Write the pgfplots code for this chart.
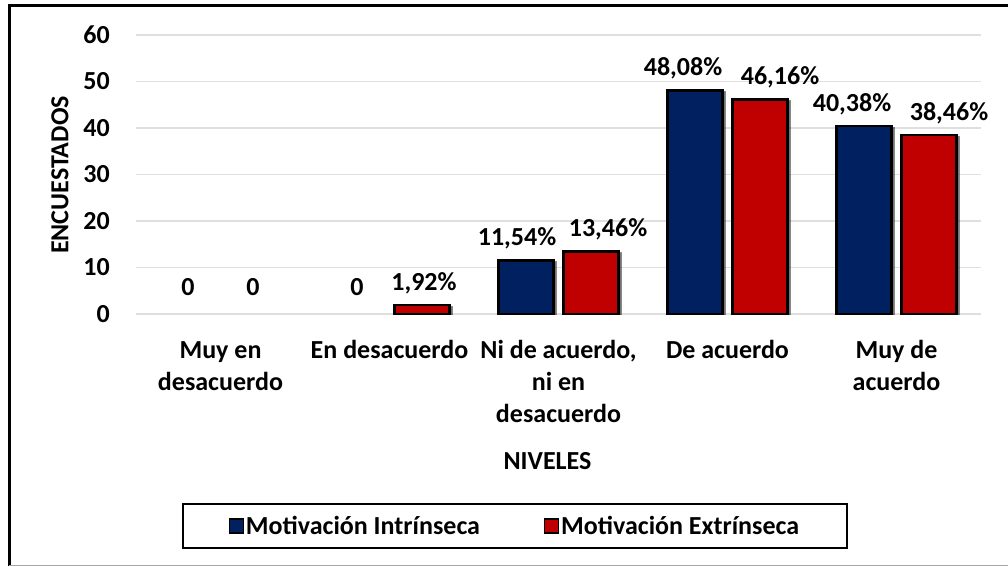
\documentclass[border=0pt]{standalone}
\usepackage{pgfplots}
\pgfplotsset{compat=1.18}
\usetikzlibrary{shadows}
\usepackage{fontspec}
\setmainfont{Carlito}
\definecolor{navy}{HTML}{002060}
\definecolor{rojo}{HTML}{C00000}
\newcommand\lb[2]{\hbox to 0pt{\hss\kern#1\kern#1\relax#2\hss}}
\begin{document}
\begin{tikzpicture}[x=1pt,y=1pt]
\useasboundingbox (0,0) rectangle (1008,566);
\fill[white] (0,0) rectangle (1008,566);
\draw[line width=3pt] (9.5,0) -- (9.5,560) -- (1008,560);
\draw[gray!70, line width=1.5pt] (9,0.75) -- (1008,0.75);
\begin{axis}[
  at={(136pt,252pt)}, anchor=south west,
  scale only axis, width=845pt, height=279pt,
  ybar, bar width=55pt,
  xmin=-0.5, xmax=4.5, ymin=0, ymax=60,
  xtick={0,1,2,3,4},
  xticklabels={{\strut Muy en\\desacuerdo},{\strut En desacuerdo},{\strut Ni de acuerdo,\\ni en\\desacuerdo},{\strut De acuerdo},{\strut Muy de\\acuerdo}},
  ytick={0,10,...,60},
  /pgf/number format/assume math mode=true,
  major tick length=0pt,
  axis line style={draw=none},
  ymajorgrids, grid style={gray!25, line width=1.5pt},
  tick label style={font=\fontsize{26}{32}\selectfont\bfseries},
  xticklabel style={align=center, anchor=north, inner sep=0pt, yshift=-21.6pt},
  yticklabel style={anchor=east, inner sep=0pt, xshift=-26pt},
  xlabel={NIVELES},
  xlabel style={at={(axis description cs:0.487,-0.527)}, anchor=center, font=\fontsize{26}{30}\selectfont\bfseries},
  ylabel={ENCUESTADOS},
  ylabel style={at={(axis description cs:-0.09,0.498)}, anchor=center, rotate=0, font=\fontsize{26}{30}\selectfont\bfseries},
  point meta=explicit symbolic,
  nodes near coords,
  nodes near coords style={anchor=base, inner sep=0pt, yshift=15pt, font=\fontsize{26}{30}\selectfont\bfseries, text=black},
  legend style={at={(axis description cs:0.4485,-0.760)}, anchor=center, draw=black, line width=2.5pt,
    font=\fontsize{26}{30}\selectfont\bfseries, inner xsep=46pt, inner ysep=10pt,
    /tikz/every odd column/.append style={column sep=0pt},
    /tikz/every even column/.append style={column sep=62pt}},
  legend columns=2,
  legend image code/.code={\draw[#1,draw=black,line width=1.2pt] (0pt,-7pt) rectangle (14pt,7pt);},
]
\addplot[fill=navy, draw=black, line width=2.5pt, bar shift=-32.5pt, forget plot,
  drop shadow={shadow xshift=2.5pt, shadow yshift=-2pt, fill=black!35, opacity=0.45}] coordinates {
  (2,11.54) [\lb{-9pt}{11,54\%}] (3,48.08) [\lb{-12pt}{48,08\%}] (4,40.38) [\lb{-12pt}{40,38\%}]};
\addplot[fill=rojo, draw=black, line width=2.5pt, bar shift=32.5pt, forget plot,
  drop shadow={shadow xshift=2.5pt, shadow yshift=-2pt, fill=black!35, opacity=0.45}] coordinates {
  (1,1.92) [\lb{2pt}{1,92\%}] (2,13.46) [\lb{17pt}{13,46\%}] (3,46.16) [\lb{20pt}{46,16\%}] (4,38.46) [\lb{20pt}{38,46\%}]};
\addplot[draw=none, fill=none, bar shift=-32.5pt, forget plot, every node near coord/.append style={yshift=4pt}] coordinates {
  (0,0) [0] (1,0) [0]};
\addplot[draw=none, fill=none, bar shift=32.5pt, forget plot, every node near coord/.append style={yshift=4pt}] coordinates {
  (0,0) [0]};
\addlegendimage{fill=navy}
\addlegendentry{Motivación Intrínseca}
\addlegendimage{fill=rojo}
\addlegendentry{Motivación Extrínseca}
\end{axis}
\end{tikzpicture}
\end{document}
